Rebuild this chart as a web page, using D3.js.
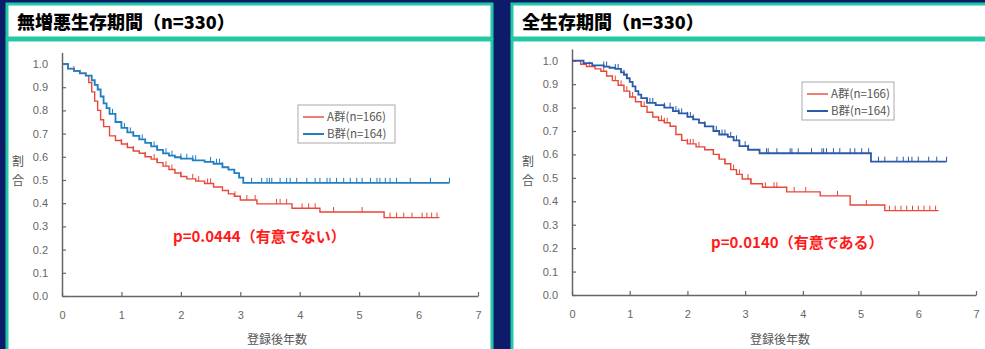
<!DOCTYPE html>
<html>
<head>
<meta charset="utf-8">
<script src="https://cdn.jsdelivr.net/npm/d3@7"></script>
<style>
  body { margin: 0; background: #0d1b6b; }
  svg { display: block; }
</style>
</head>
<body>
<script>
const width = 985;
const height = 349;

const redColor = "#e8473a";
const blueLeft = "#1f7fc4";
const blueRight = "#2a5aa8";
const tealColor = "#22c9a3";
const axisColor = "#666";
const textGray = "#555";

// x axis ticks (years) and y axis ticks (proportion)
const xTicks = [0, 1, 2, 3, 4, 5, 6, 7];
const yTicks = [0, 0.1, 0.2, 0.3, 0.4, 0.5, 0.6, 0.7, 0.8, 0.9, 1.0];
const groupLabels = ["A群(n=166)", "B群(n=164)"];

// 無増悪生存期間 - A群
const pfsATime = [0, 0.1, 0.2, 0.3, 0.4, 0.45, 0.5, 0.55, 0.6, 0.65, 0.7, 0.8, 0.9, 1.0, 1.1, 1.2, 1.3, 1.4, 1.5, 1.6, 1.7, 1.8, 1.9, 2.0, 2.1, 2.25, 2.4, 2.55, 2.7, 2.8, 2.9, 3.0, 3.28, 3.87, 4.34, 5.42, 6.35];
const pfsASurv = [1, 0.98, 0.97, 0.96, 0.95, 0.92, 0.88, 0.84, 0.80, 0.76, 0.73, 0.69, 0.67, 0.655, 0.64, 0.625, 0.615, 0.60, 0.59, 0.575, 0.56, 0.545, 0.53, 0.515, 0.505, 0.495, 0.485, 0.47, 0.455, 0.44, 0.43, 0.414, 0.397, 0.378, 0.362, 0.338, 0.338];
const pfsACensor = [0.2, 0.7, 0.9, 1.0, 1.1, 1.2, 1.4, 1.55, 1.6, 1.75, 1.85, 2.0, 2.2, 2.3, 2.45, 2.5, 2.91, 3.11, 3.25, 3.61, 3.67, 3.78, 4.04, 4.15, 4.26, 4.57, 5.05, 5.52, 5.63, 5.75, 5.89, 6.06, 6.14, 6.22, 6.31];

// 無増悪生存期間 - B群
const pfsBTime = [0, 0.1, 0.2, 0.3, 0.4, 0.5, 0.55, 0.6, 0.65, 0.7, 0.75, 0.8, 0.9, 1.0, 1.1, 1.2, 1.3, 1.4, 1.5, 1.6, 1.7, 1.8, 1.9, 2.0, 2.2, 2.4, 2.55, 2.7, 2.8, 2.9, 2.98, 3.05, 6.52];
const pfsBSurv = [1, 0.98, 0.97, 0.96, 0.95, 0.93, 0.91, 0.89, 0.86, 0.83, 0.81, 0.785, 0.75, 0.725, 0.705, 0.69, 0.675, 0.66, 0.645, 0.63, 0.615, 0.605, 0.598, 0.592, 0.585, 0.578, 0.57, 0.555, 0.545, 0.53, 0.51, 0.488, 0.488];
const pfsBCensor = [0.55, 0.6, 0.8, 0.85, 0.9, 1.0, 1.05, 1.15, 1.2, 1.35, 1.55, 1.6, 1.75, 1.85, 2.0, 2.1, 2.2, 2.25, 2.5, 2.6, 2.65, 2.7, 3.19, 3.36, 3.45, 3.49, 3.53, 3.67, 3.78, 3.84, 3.95, 4.12, 4.26, 4.34, 4.46, 4.51, 4.62, 4.74, 4.85, 4.96, 5.05, 5.19, 5.30, 5.35, 5.44, 5.52, 5.63, 5.86, 6.20, 6.52];

// 全生存期間 - A群
const osATime = [0, 0.15, 0.25, 0.4, 0.5, 0.6, 0.7, 0.8, 0.9, 1.0, 1.1, 1.2, 1.3, 1.4, 1.5, 1.6, 1.7, 1.8, 1.9, 2.0, 2.15, 2.3, 2.45, 2.55, 2.65, 2.75, 2.85, 2.95, 3.1, 3.3, 3.72, 4.3, 4.82, 5.42, 6.35];
const osASurv = [1, 0.985, 0.975, 0.965, 0.955, 0.935, 0.915, 0.895, 0.87, 0.845, 0.825, 0.805, 0.78, 0.76, 0.745, 0.735, 0.72, 0.685, 0.66, 0.645, 0.632, 0.62, 0.60, 0.58, 0.56, 0.535, 0.515, 0.495, 0.475, 0.46, 0.44, 0.423, 0.384, 0.36, 0.36];
const osACensor = [0.3, 0.55, 0.75, 0.85, 0.95, 1.0, 1.05, 1.2, 1.25, 1.55, 1.6, 1.65, 1.9, 2.0, 2.05, 2.1, 2.2, 2.45, 2.55, 2.65, 2.8, 2.9, 3.05, 3.1, 3.35, 3.5, 3.55, 3.85, 4.05, 4.6, 5.1, 5.5, 5.6, 5.7, 5.8, 5.9, 6.0, 6.1, 6.2, 6.3];

// 全生存期間 - B群
const osBTime = [0, 0.2, 0.35, 0.55, 0.65, 0.75, 0.85, 0.9, 0.95, 1.0, 1.05, 1.1, 1.15, 1.2, 1.3, 1.45, 1.6, 1.75, 1.85, 2.0, 2.1, 2.2, 2.3, 2.45, 2.55, 2.7, 2.8, 2.9, 3.05, 3.25, 5.18, 6.49];
const osBSurv = [1, 0.99, 0.98, 0.975, 0.97, 0.965, 0.95, 0.94, 0.925, 0.91, 0.89, 0.87, 0.855, 0.84, 0.82, 0.81, 0.80, 0.785, 0.775, 0.76, 0.75, 0.735, 0.72, 0.70, 0.685, 0.675, 0.66, 0.635, 0.62, 0.605, 0.569, 0.569];
const osBCensor = [0.55, 0.6, 0.75, 0.8, 0.9, 0.95, 1.3, 1.35, 1.4, 1.6, 1.7, 1.8, 1.85, 1.9, 2.0, 2.05, 2.1, 2.3, 2.5, 2.6, 2.65, 2.75, 2.85, 3.0, 3.06, 3.37, 3.40, 3.55, 3.78, 3.81, 3.92, 4.15, 4.33, 4.36, 4.41, 4.53, 4.64, 4.82, 4.90, 5.02, 5.14, 5.31, 5.42, 5.63, 5.74, 5.83, 5.89, 6.0, 6.18, 6.32, 6.49];

const svg = d3.select("body")
  .append("svg")
  .attr("width", width)
  .attr("height", height);

svg.append("rect")
  .attr("width", width)
  .attr("height", height)
  .attr("fill", "#0d1b6b");

const panels = [
  {
    left: 7, boxWidth: 485,
    title: "無増悪生存期間（n=330）",
    xRange: [62, 478], y0: 296, yUnit: 232,
    blue: blueLeft,
    series: [
      {time: pfsATime, surv: pfsASurv, censor: pfsACensor, color: redColor, width: 1.4},
      {time: pfsBTime, surv: pfsBSurv, censor: pfsBCensor, color: blueLeft, width: 1.8}
    ],
    legend: {x: 298, y: 105, w: 97, h: 38},
    pText: "p=0.0444（有意でない）", pX: 173, pY: 242,
    yLabelX: 18, xTitleX: 277
  },
  {
    left: 512, boxWidth: 480,
    title: "全生存期間（n=330）",
    xRange: [572, 976], y0: 295, yUnit: 234.3,
    blue: blueRight,
    series: [
      {time: osATime, surv: osASurv, censor: osACensor, color: redColor, width: 1.4},
      {time: osBTime, surv: osBSurv, censor: osBCensor, color: blueRight, width: 1.8}
    ],
    legend: {x: 802, y: 82, w: 92, h: 38},
    pText: "p=0.0140（有意である）", pX: 711, pY: 248,
    yLabelX: 528, xTitleX: 780
  }
];

panels.forEach(function (p) {
  const g = svg.append("g");

  // title bar and plot frame
  g.append("rect")
    .attr("x", p.left).attr("y", 4)
    .attr("width", p.boxWidth).attr("height", 34)
    .attr("fill", "#fff")
    .attr("stroke", tealColor).attr("stroke-width", 3);
  g.append("rect")
    .attr("x", p.left).attr("y", 40)
    .attr("width", p.boxWidth).attr("height", 340)
    .attr("fill", "#fff")
    .attr("stroke", tealColor).attr("stroke-width", 3);

  g.append("text")
    .attr("x", p.left + 10).attr("y", 29)
    .attr("font-family", "'Noto Sans CJK JP', sans-serif")
    .attr("font-weight", 900)
    .attr("font-size", 18)
    .attr("fill", "#000")
    .text(p.title);

  const x = d3.scaleLinear().domain([0, 7]).range(p.xRange);
  const y = d3.scaleLinear().domain([0, 1.05]).range([p.y0, p.y0 - 1.05 * p.yUnit]);

  const yAxis = g.append("g")
    .attr("transform", "translate(" + p.xRange[0] + ",0)")
    .call(d3.axisLeft(y).tickValues(yTicks).tickFormat(d3.format(".1f"))
      .tickSizeInner(-4).tickSizeOuter(0).tickPadding(14));
  const xAxis = g.append("g")
    .attr("transform", "translate(0," + p.y0 + ")")
    .call(d3.axisBottom(x).tickValues(xTicks).tickFormat(d3.format("d"))
      .tickSizeInner(-4).tickSizeOuter(0).tickPadding(15));

  [yAxis, xAxis].forEach(function (ax) {
    ax.select(".domain").attr("stroke", axisColor).attr("stroke-width", 1.5);
    ax.selectAll(".tick line").attr("stroke", axisColor).attr("stroke-width", 1.2);
    ax.selectAll("text")
      .attr("fill", "#666")
      .attr("font-family", "'Liberation Sans', Arial, sans-serif")
      .attr("font-size", 11);
  });

  // y label (vertical)
  ["割", "合"].forEach(function (ch, i) {
    g.append("text")
      .attr("x", p.yLabelX).attr("y", 166 + i * 19)
      .attr("text-anchor", "middle")
      .attr("font-family", "'Noto Sans CJK JP', sans-serif")
      .attr("font-size", 12)
      .attr("fill", textGray)
      .text(ch);
  });

  g.append("text")
    .attr("x", p.xTitleX).attr("y", 344)
    .attr("text-anchor", "middle")
    .attr("font-family", "'Noto Sans CJK JP', sans-serif")
    .attr("font-size", 12)
    .attr("fill", textGray)
    .text("登録後年数");

  // KM curves
  const line = d3.line()
    .x(function (d) { return x(d[0]); })
    .y(function (d) { return y(d[1]); })
    .curve(d3.curveStepAfter);

  p.series.forEach(function (s) {
    const pts = s.time.map(function (t, i) { return [t, s.surv[i]]; });
    g.append("path")
      .attr("d", line(pts))
      .attr("fill", "none")
      .attr("stroke", s.color)
      .attr("stroke-width", s.width);

    const survAt = function (c) {
      const i = d3.bisectRight(s.time, c) - 1;
      return s.surv[Math.max(i, 0)];
    };
    g.selectAll(null)
      .data(s.censor)
      .enter()
      .append("line")
      .attr("x1", function (c) { return x(c); })
      .attr("x2", function (c) { return x(c); })
      .attr("y1", function (c) { return y(survAt(c)); })
      .attr("y2", function (c) { return y(survAt(c)) - 5; })
      .attr("stroke", s.color)
      .attr("stroke-width", 1);
  });

  // legend
  const L = p.legend;
  g.append("rect")
    .attr("x", L.x).attr("y", L.y)
    .attr("width", L.w).attr("height", L.h)
    .attr("fill", "#fff")
    .attr("stroke", "#aaa").attr("stroke-width", 1);
  groupLabels.forEach(function (lab, i) {
    const ly = L.y + 12 + i * 17;
    g.append("line")
      .attr("x1", L.x + 5).attr("x2", L.x + 26)
      .attr("y1", ly).attr("y2", ly)
      .attr("stroke", i === 0 ? redColor : p.blue)
      .attr("stroke-width", i === 0 ? 1.4 : 2);
    g.append("text")
      .attr("x", L.x + 29).attr("y", ly + 4)
      .attr("font-family", "'Noto Sans CJK JP', sans-serif")
      .attr("font-size", 11.5)
      .attr("fill", textGray)
      .text(lab);
  });

  g.append("text")
    .attr("x", p.pX).attr("y", p.pY)
    .attr("font-family", "'Noto Sans CJK JP', sans-serif")
    .attr("font-weight", "bold")
    .attr("font-size", 15)
    .attr("fill", "#ff1a1a")
    .text(p.pText);
});
</script>
</body>
</html>
